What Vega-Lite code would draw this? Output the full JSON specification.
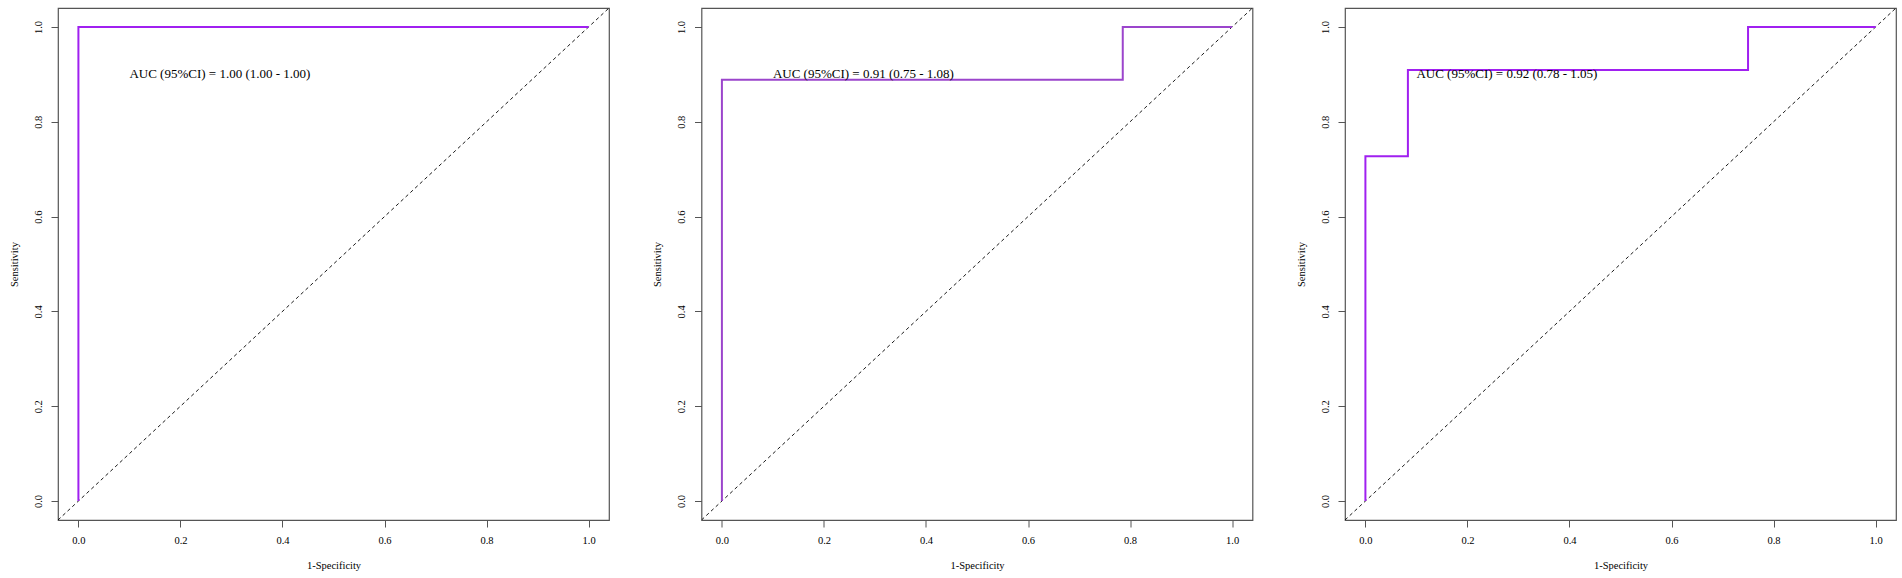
{
  "$schema": "https://vega.github.io/schema/vega-lite/v6.json",
  "background": "white",
  "padding": {"left": 8, "top": 7, "right": 0, "bottom": 0},
  "bounds": "flush",
  "spacing": 92.5,
  "datasets": {
    "roc": [
      {"panel": 1, "order": 1, "fpr": 0, "tpr": 0},
      {"panel": 1, "order": 2, "fpr": 0, "tpr": 1},
      {"panel": 1, "order": 3, "fpr": 1, "tpr": 1},
      {"panel": 2, "order": 1, "fpr": 0, "tpr": 0},
      {"panel": 2, "order": 2, "fpr": 0, "tpr": 0.8889},
      {"panel": 2, "order": 3, "fpr": 0.7857, "tpr": 0.8889},
      {"panel": 2, "order": 4, "fpr": 0.7857, "tpr": 1},
      {"panel": 2, "order": 5, "fpr": 1, "tpr": 1},
      {"panel": 3, "order": 1, "fpr": 0, "tpr": 0},
      {"panel": 3, "order": 2, "fpr": 0, "tpr": 0.7273},
      {"panel": 3, "order": 3, "fpr": 0.0833, "tpr": 0.7273},
      {"panel": 3, "order": 4, "fpr": 0.0833, "tpr": 0.9091},
      {"panel": 3, "order": 5, "fpr": 0.75, "tpr": 0.9091},
      {"panel": 3, "order": 6, "fpr": 0.75, "tpr": 1},
      {"panel": 3, "order": 7, "fpr": 1, "tpr": 1}
    ],
    "diag": [
      {"fpr": -0.04, "tpr": -0.04},
      {"fpr": 1.04, "tpr": 1.04}
    ],
    "labels": [
      {"panel": 1, "fpr": 0.1, "tpr": 0.9, "label": "AUC (95%CI) = 1.00 (1.00 - 1.00)"},
      {"panel": 2, "fpr": 0.1, "tpr": 0.9, "label": "AUC (95%CI) = 0.91 (0.75 - 1.08)"},
      {"panel": 3, "fpr": 0.1, "tpr": 0.9, "label": "AUC (95%CI) = 0.92 (0.78 - 1.05)"}
    ]
  },
  "config": {
    "view": {"stroke": "#555555", "strokeWidth": 1.2},
    "axis": {
      "domain": false,
      "grid": false,
      "tickColor": "#555555",
      "tickSize": 7,
      "tickWidth": 1,
      "labelFont": "Liberation Serif",
      "labelFontSize": 10.5,
      "labelColor": "black",
      "titleFont": "Liberation Serif",
      "titleFontSize": 10.5,
      "titleFontWeight": "normal",
      "titleColor": "black"
    },
    "axisX": {"labelPadding": 8, "titlePadding": 15},
    "axisY": {"labelAngle": 270, "labelAlign": "center", "labelBaseline": "bottom", "labelPadding": 8, "titlePadding": 14}
  },
  "hconcat": [
    {
      "width": 551, "height": 512,
      "layer": [
        {
          "data": {"name": "diag"},
          "mark": {"type": "line", "color": "black", "strokeWidth": 0.9, "strokeDash": [3.5, 3], "clip": true},
          "encoding": {
            "x": {"field": "fpr", "type": "quantitative", "scale": {"domain": [-0.04, 1.04], "nice": false, "zero": false}, "axis": {"values": [0, 0.2, 0.4, 0.6, 0.8, 1], "format": ".1f", "title": "1-Specificity"}},
            "y": {"field": "tpr", "type": "quantitative", "scale": {"domain": [-0.04, 1.04], "nice": false, "zero": false}, "axis": {"values": [0, 0.2, 0.4, 0.6, 0.8, 1], "format": ".1f", "title": "Sensitivity"}}
          }
        },
        {
          "data": {"name": "roc"},
          "transform": [{"filter": "datum.panel === 1"}],
          "mark": {"type": "line", "color": "#A020F0", "strokeWidth": 2},
          "encoding": {
            "x": {"field": "fpr", "type": "quantitative"},
            "y": {"field": "tpr", "type": "quantitative"},
            "order": {"field": "order", "type": "quantitative"}
          }
        },
        {
          "data": {"name": "labels"},
          "transform": [{"filter": "datum.panel === 1"}],
          "mark": {"type": "text", "align": "left", "baseline": "middle", "font": "Liberation Serif", "fontSize": 13, "color": "black"},
          "encoding": {
            "x": {"field": "fpr", "type": "quantitative"},
            "y": {"field": "tpr", "type": "quantitative"},
            "text": {"field": "label"}
          }
        }
      ]
    },
    {
      "width": 551, "height": 512,
      "layer": [
        {
          "data": {"name": "diag"},
          "mark": {"type": "line", "color": "black", "strokeWidth": 0.9, "strokeDash": [3.5, 3], "clip": true},
          "encoding": {
            "x": {"field": "fpr", "type": "quantitative", "scale": {"domain": [-0.04, 1.04], "nice": false, "zero": false}, "axis": {"values": [0, 0.2, 0.4, 0.6, 0.8, 1], "format": ".1f", "title": "1-Specificity"}},
            "y": {"field": "tpr", "type": "quantitative", "scale": {"domain": [-0.04, 1.04], "nice": false, "zero": false}, "axis": {"values": [0, 0.2, 0.4, 0.6, 0.8, 1], "format": ".1f", "title": "Sensitivity"}}
          }
        },
        {
          "data": {"name": "roc"},
          "transform": [{"filter": "datum.panel === 2"}],
          "mark": {"type": "line", "color": "#9B45CC", "strokeWidth": 2},
          "encoding": {
            "x": {"field": "fpr", "type": "quantitative"},
            "y": {"field": "tpr", "type": "quantitative"},
            "order": {"field": "order", "type": "quantitative"}
          }
        },
        {
          "data": {"name": "labels"},
          "transform": [{"filter": "datum.panel === 2"}],
          "mark": {"type": "text", "align": "left", "baseline": "middle", "font": "Liberation Serif", "fontSize": 13, "color": "black"},
          "encoding": {
            "x": {"field": "fpr", "type": "quantitative"},
            "y": {"field": "tpr", "type": "quantitative"},
            "text": {"field": "label"}
          }
        }
      ]
    },
    {
      "width": 551, "height": 512,
      "layer": [
        {
          "data": {"name": "diag"},
          "mark": {"type": "line", "color": "black", "strokeWidth": 0.9, "strokeDash": [3.5, 3], "clip": true},
          "encoding": {
            "x": {"field": "fpr", "type": "quantitative", "scale": {"domain": [-0.04, 1.04], "nice": false, "zero": false}, "axis": {"values": [0, 0.2, 0.4, 0.6, 0.8, 1], "format": ".1f", "title": "1-Specificity"}},
            "y": {"field": "tpr", "type": "quantitative", "scale": {"domain": [-0.04, 1.04], "nice": false, "zero": false}, "axis": {"values": [0, 0.2, 0.4, 0.6, 0.8, 1], "format": ".1f", "title": "Sensitivity"}}
          }
        },
        {
          "data": {"name": "roc"},
          "transform": [{"filter": "datum.panel === 3"}],
          "mark": {"type": "line", "color": "#A020F0", "strokeWidth": 2},
          "encoding": {
            "x": {"field": "fpr", "type": "quantitative"},
            "y": {"field": "tpr", "type": "quantitative"},
            "order": {"field": "order", "type": "quantitative"}
          }
        },
        {
          "data": {"name": "labels"},
          "transform": [{"filter": "datum.panel === 3"}],
          "mark": {"type": "text", "align": "left", "baseline": "middle", "font": "Liberation Serif", "fontSize": 13, "color": "black"},
          "encoding": {
            "x": {"field": "fpr", "type": "quantitative"},
            "y": {"field": "tpr", "type": "quantitative"},
            "text": {"field": "label"}
          }
        }
      ]
    }
  ]
}
